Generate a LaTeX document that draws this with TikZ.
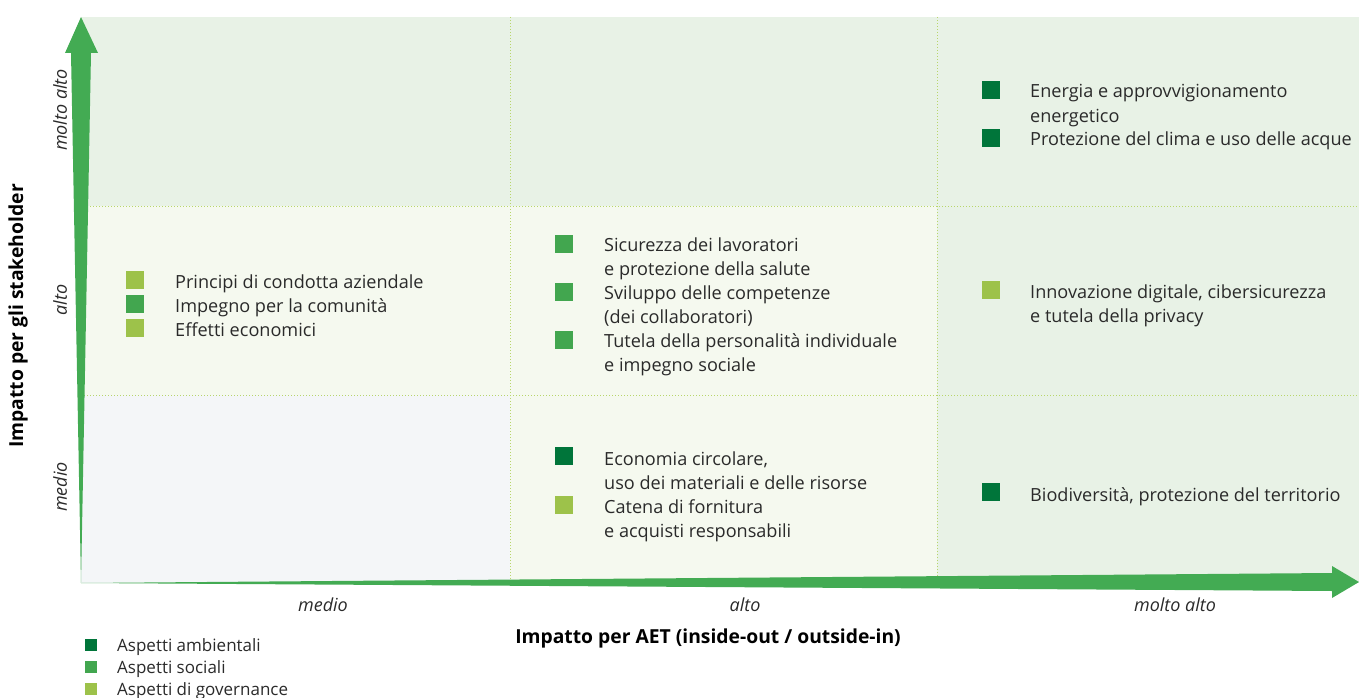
\documentclass[tikz,border=0pt]{standalone}
\usepackage{fontspec}
\setmainfont{Open Sans}
\definecolor{bgA}{HTML}{E8F2E6}
\definecolor{bgB}{HTML}{F5F9EF}
\definecolor{bgC}{HTML}{F4F6F8}
\definecolor{dotc}{HTML}{B8D66B}
\definecolor{envc}{HTML}{00753A}
\definecolor{socc}{HTML}{42A64F}
\definecolor{govc}{HTML}{9DC24A}
\definecolor{arrc}{HTML}{43AB53}
\definecolor{txt}{HTML}{2A2A2A}
\tikzset{
  sq/.style={fill=#1, draw=none, minimum size=18pt, inner sep=0pt},
  lsq/.style={fill=#1, draw=none, minimum size=12pt, inner sep=0pt},
  itm/.style={anchor=base west, inner sep=0pt, text=txt, font=\fontsize{18.1}{21}\selectfont, yshift=-1pt},
  lgd/.style={anchor=base west, inner sep=0pt, text=txt, font=\fontsize{17}{20}\selectfont},
  lvl/.style={inner sep=0pt, text=txt, font=\fontsize{18}{21}\selectfont\itshape},
  ttl/.style={inner sep=0pt, text=black, font=\fontsize{19.3}{22}\selectfont\bfseries},
  gridl/.style={draw=dotc, line width=1pt, dash pattern=on 1pt off 2pt}
}
\begin{document}
\begin{tikzpicture}[x=1pt,y=-1pt]
\useasboundingbox (0,0) rectangle (1359,698);
% backgrounds
\fill[bgA] (81,17) rectangle (1359,206);
\fill[bgB] (81,206) rectangle (937,395);
\fill[bgA] (937,206) rectangle (1359,583);
\fill[bgC] (81,395) rectangle (510,583);
\fill[bgB] (510,395) rectangle (937,583);
% grid
\coordinate (g1t) at (510,17); \coordinate (g1b) at (510,583);
\coordinate (g2t) at (937,17); \coordinate (g2b) at (937,583);
\coordinate (h1l) at (81,206); \coordinate (h1r) at (1359,206);
\coordinate (h2l) at (81,395); \coordinate (h2r) at (1359,395);
\draw[gridl] (g1t) -- (g1b);
\draw[gridl] (g2t) -- (g2b);
\draw[gridl] (h1l) -- (h1r);
\draw[gridl] (h2l) -- (h2r);
% axes arrows (tapered)
\coordinate (o) at (81,583);
\fill[arrc] (o) -- (71,53) -- (65,53) -- (81,17) -- (98,53) -- (91,53) -- cycle;
\fill[arrc] (o) -- (1332,573) -- (1332,566) -- (1359,582) -- (1332,598) -- (1332,591) -- cycle;
% axis level labels
\node[lvl, rotate=90] (ym) at (60,110) {molto alto};
\node[lvl, rotate=90] (ya) at (60,300) {alto};
\node[lvl, rotate=90] (yl) at (60,487) {medio};
\node[lvl] (xl) at (323,605) {medio};
\node[lvl] (xa) at (745,605) {alto};
\node[lvl] (xm) at (1175,605) {molto alto};
\node[ttl, rotate=90] (yt) at (18,316) {Impatto per gli stakeholder};
\node[ttl] (xt) at (708,638) {Impatto per AET (inside-out / outside-in)};
% top right
\node[sq=envc] (s1) at (991,90) {};
\node[itm] (t1a) at (1030,97) {Energia e approvvigionamento};
\node[itm] (t1b) at (1030,121) {energetico};
\node[sq=envc] (s2) at (991,138) {};
\node[itm] (t2a) at (1030,145) {Protezione del clima e uso delle acque};
% middle left
\node[sq=govc] (s3) at (135,280) {};
\node[itm] (t3a) at (175,287) {Principi di condotta aziendale};
\node[sq=socc] (s4) at (135,304) {};
\node[itm] (t4a) at (175,311) {Impegno per la comunità};
\node[sq=govc] (s5) at (135,328) {};
\node[itm] (t5a) at (175,335) {Effetti economici};
% middle mid
\node[sq=socc] (s6) at (564,244) {};
\node[itm] (t6a) at (604,250) {Sicurezza dei lavoratori};
\node[itm] (t6b) at (604,274) {e protezione della salute};
\node[sq=socc] (s7) at (564,292) {};
\node[itm] (t7a) at (604,298) {Sviluppo delle competenze};
\node[itm] (t7b) at (604,322) {(dei collaboratori)};
\node[sq=socc] (s8) at (564,340) {};
\node[itm] (t8a) at (604,346) {Tutela della personalità individuale};
\node[itm] (t8b) at (604,370) {e impegno sociale};
% middle right
\node[sq=govc] (s9) at (991,290) {};
\node[itm] (t9a) at (1030,297) {Innovazione digitale, cibersicurezza};
\node[itm] (t9b) at (1030,321) {e tutela della privacy};
% bottom mid
\node[sq=envc] (s10) at (564,456) {};
\node[itm] (t10a) at (604,464) {Economia circolare,};
\node[itm] (t10b) at (604,488) {uso dei materiali e delle risorse};
\node[sq=govc] (s11) at (564,505) {};
\node[itm] (t11a) at (604,512) {Catena di fornitura};
\node[itm] (t11b) at (604,536) {e acquisti responsabili};
% bottom right
\node[sq=envc] (s12) at (991,492) {};
\node[itm] (t12a) at (1030,500) {Biodiversità, protezione del territorio};
% legend
\node[lsq=envc] (l1) at (91,645) {};
\node[lgd] (lt1) at (117,651) {Aspetti ambientali};
\node[lsq=socc] (l2) at (91,667) {};
\node[lgd] (lt2) at (117,673) {Aspetti sociali};
\node[lsq=govc] (l3) at (91,689) {};
\node[lgd] (lt3) at (117,695) {Aspetti di governance};
\end{tikzpicture}
\end{document}
